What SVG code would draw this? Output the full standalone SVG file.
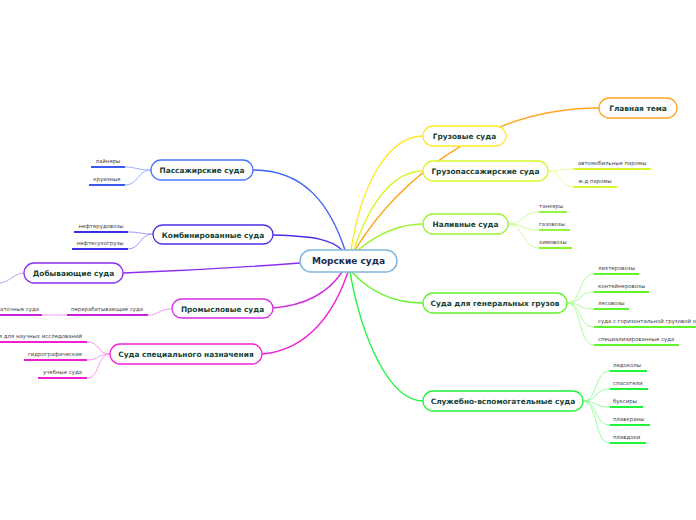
<svg xmlns="http://www.w3.org/2000/svg" width="696" height="520" viewBox="0 0 696 520">
<style>
.n rect{fill:#fff;stroke-width:1.3}
.n text{font-family:"DejaVu Sans",Verdana,sans-serif;font-weight:bold;font-size:7.4px;fill:#163f36;text-anchor:middle}
.s{font-family:"DejaVu Sans",Verdana,sans-serif;font-size:5.4px;fill:#444}
.m{fill:none;stroke-width:1.4}
.c{fill:none;stroke-width:0.9}
.u{stroke-width:1.8}
</style>
<rect width="696" height="520" fill="#fff"/>
<g id="connectors">
  <path class="m" stroke="#3a62f5" d="M253,170 C305,170 330,205 345,250"/>
  <path class="m" stroke="#4a2fe6" d="M273,235 C315,236 332,240 342,250"/>
  <path class="m" stroke="#8a2ff0" d="M123,273 C200,270 260,266 300,263"/>
  <path class="m" stroke="#d22fe0" d="M273,308 C310,305 330,290 342,272"/>
  <path class="m" stroke="#f21fd8" d="M262,354 C310,350 335,310 348,272"/>
  <path class="m" stroke="#ffa51e" d="M355,250 C395,185 480,108 599,108"/>
  <path class="m" stroke="#ffe82a" d="M351,250 C362,180 390,136 423,136"/>
  <path class="m" stroke="#dcf52a" d="M354,250 C370,200 395,171 423,171"/>
  <path class="m" stroke="#9af52a" d="M358,250 C380,232 400,224 423,224"/>
  <path class="m" stroke="#5ef52a" d="M352,272 C370,292 395,303 423,303"/>
  <path class="m" stroke="#1ef53a" d="M350,272 C362,340 390,401 423,401"/>
  <g stroke="#8fa8ff" class="c">
    <path d="M151,170 C138,170 135,167 125,167"/>
    <path d="M151,170 C138,170 138,185 125,185"/>
  </g>
  <g stroke="#9a8cf5" class="c">
    <path d="M153,234 C140,234 140,232 128,232"/>
    <path d="M153,234 C140,234 140,249 128,249"/>
  </g>
  <path class="c" stroke="#c08cf5" d="M24,273 C14,273 10,282 0,283"/>
  <g stroke="#ee90ee" class="c">
    <path d="M172,309 C158,309 160,315 148,315"/>
    <path d="M67,315 C55,315 55,315 42,315"/>
  </g>
  <g stroke="#fb8cec" class="c">
    <path d="M110,354 C97,354 100,342 87,342"/>
    <path d="M110,354 C97,354 100,360 87,360"/>
    <path d="M110,354 C97,354 100,378 87,378"/>
  </g>
  <g stroke="#eefa8c" class="c">
    <path d="M548,171 C562,171 560,169 574,169"/>
    <path d="M548,171 C562,171 560,187 574,187"/>
  </g>
  <g stroke="#c8fa8c" class="c">
    <path d="M508,224 C524,224 522,212 539,212"/>
    <path d="M508,224 C524,224 522,230 539,230"/>
    <path d="M508,224 C524,224 522,248 539,248"/>
  </g>
  <g stroke="#a8fa8c" class="c">
    <path d="M567,303 C582,303 578,274 594,274"/>
    <path d="M567,303 C582,303 578,292 594,292"/>
    <path d="M567,303 C582,303 578,309 594,309"/>
    <path d="M567,303 C582,303 578,327 594,327"/>
    <path d="M567,303 C582,303 578,345 594,345"/>
  </g>
  <g stroke="#8cfa98" class="c">
    <path d="M583,401 C598,401 594,371 610,371"/>
    <path d="M583,401 C598,401 594,389 610,389"/>
    <path d="M583,401 C598,401 594,407 610,407"/>
    <path d="M583,401 C598,401 594,425 610,425"/>
    <path d="M583,401 C598,401 594,443 610,443"/>
  </g>
</g>
<g id="center">
  <rect x="300" y="250" width="97" height="22" rx="11" fill="#fff" stroke="#7fb6dc" stroke-width="1.5"/>
  <text x="348.5" y="264.3" font-family="DejaVu Sans,Verdana,sans-serif" font-weight="bold" font-size="9px" fill="#1b2c50" text-anchor="middle">Морские суда</text>
</g>
<g id="n-passenger" class="n"><rect x="151" y="160" width="102" height="20" rx="10" stroke="#4a74ff"/><text x="202" y="173">Пассажирские суда</text></g>
<g id="n-combined" class="n"><rect x="153" y="225" width="120" height="19" rx="9.5" stroke="#4a2fe6"/><text x="213" y="237.5">Комбинированные суда</text></g>
<g id="n-mining" class="n"><rect x="24" y="263" width="99" height="20" rx="10" stroke="#8a2ff0"/><text x="73.5" y="276">Добывающие суда</text></g>
<g id="n-fishing" class="n"><rect x="172" y="299" width="101" height="19" rx="9.5" stroke="#d22fe0"/><text x="222.5" y="311.5">Промысловые суда</text></g>
<g id="n-special" class="n"><rect x="110" y="344" width="152" height="20" rx="10" stroke="#f21fd8"/><text x="186" y="357">Суда специального назначения</text></g>
<g id="n-main" class="n"><rect x="599" y="98" width="78" height="20" rx="10" stroke="#ffa51e"/><text x="638" y="111">Главная тема</text></g>
<g id="n-cargo" class="n"><rect x="423" y="126" width="83" height="20" rx="10" stroke="#ffe82a"/><text x="464.5" y="139">Грузовые суда</text></g>
<g id="n-cargopass" class="n"><rect x="423" y="161" width="125" height="20" rx="10" stroke="#dcf52a"/><text x="485.5" y="174">Грузопассажирские суда</text></g>
<g id="n-liquid" class="n"><rect x="423" y="214" width="85" height="20" rx="10" stroke="#9af52a"/><text x="465.5" y="227">Наливные суда</text></g>
<g id="n-general" class="n"><rect x="423" y="293" width="144" height="20" rx="10" stroke="#5ef52a"/><text x="495" y="306">Суда для генеральных грузов</text></g>
<g id="n-service" class="n"><rect x="423" y="391" width="160" height="20" rx="10" stroke="#1ef53a"/><text x="503" y="404">Служебно-вспомогательные суда</text></g>

<g id="sub-passenger">
  <text class="s" x="108" y="163" text-anchor="middle">лайнеры</text><line class="u" x1="91" y1="167" x2="125" y2="167" stroke="#3a5af0"/>
  <text class="s" x="107" y="181" text-anchor="middle">круизные</text><line class="u" x1="89" y1="185" x2="125" y2="185" stroke="#3a5af0"/>
</g>
<g id="sub-combined">
  <text class="s" x="101" y="228" text-anchor="middle">нефтерудовозы</text><line class="u" x1="74" y1="232" x2="128" y2="232" stroke="#3a2fe6"/>
  <text class="s" x="100" y="245" text-anchor="middle">нефтесухогрузы</text><line class="u" x1="72" y1="249" x2="128" y2="249" stroke="#3a2fe6"/>
</g>
<g id="sub-fishing">
  <text class="s" x="107" y="311" text-anchor="middle">перерабатывающие суда</text><line class="u" x1="67" y1="315" x2="148" y2="315" stroke="#c81fd8"/>
  <text class="s" x="39" y="311" text-anchor="end">аточные суда</text><line class="u" x1="0" y1="315" x2="42" y2="315" stroke="#c81fd8"/>
</g>
<g id="sub-special">
  <text class="s" x="82" y="338" text-anchor="end">я для научных исследований</text><line class="u" x1="0" y1="342" x2="87" y2="342" stroke="#f01fd0"/>
  <text class="s" x="82" y="356" text-anchor="end">гидрографические</text><line class="u" x1="24" y1="360" x2="87" y2="360" stroke="#f01fd0"/>
  <text class="s" x="82" y="374" text-anchor="end">учебные суда</text><line class="u" x1="38" y1="378" x2="87" y2="378" stroke="#f01fd0"/>
</g>
<g id="sub-cargopass">
  <text class="s" x="578" y="165">автомобильные паромы</text><line class="u" x1="574" y1="169" x2="651" y2="169" stroke="#dcf52a"/>
  <text class="s" x="578" y="183">ж.д паромы</text><line class="u" x1="574" y1="187" x2="617" y2="187" stroke="#dcf52a"/>
</g>
<g id="sub-liquid">
  <text class="s" x="539" y="208">танкеры</text><line class="u" x1="539" y1="212" x2="567" y2="212" stroke="#8af52a"/>
  <text class="s" x="539" y="226">газовозы</text><line class="u" x1="539" y1="230" x2="570" y2="230" stroke="#8af52a"/>
  <text class="s" x="539" y="244">химовозы</text><line class="u" x1="539" y1="248" x2="572" y2="248" stroke="#8af52a"/>
</g>
<g id="sub-general">
  <text class="s" x="598" y="270">лихтеровозы</text><line class="u" x1="594" y1="274" x2="639" y2="274" stroke="#5ef52a"/>
  <text class="s" x="598" y="288">контейнеровозы</text><line class="u" x1="594" y1="292" x2="649" y2="292" stroke="#5ef52a"/>
  <text class="s" x="598" y="305">лесовозы</text><line class="u" x1="594" y1="309" x2="629" y2="309" stroke="#5ef52a"/>
  <text class="s" x="598" y="323">суда с горизонтальной грузовой о</text><line class="u" x1="594" y1="327" x2="696" y2="327" stroke="#5ef52a"/>
  <text class="s" x="598" y="341">специализированные суда</text><line class="u" x1="594" y1="345" x2="679" y2="345" stroke="#5ef52a"/>
</g>
<g id="sub-service">
  <text class="s" x="613" y="367">ледоколы</text><line class="u" x1="610" y1="371" x2="647" y2="371" stroke="#1ef53a"/>
  <text class="s" x="613" y="385">спасатели</text><line class="u" x1="610" y1="389" x2="648" y2="389" stroke="#1ef53a"/>
  <text class="s" x="613" y="403">буксиры</text><line class="u" x1="610" y1="407" x2="643" y2="407" stroke="#1ef53a"/>
  <text class="s" x="613" y="421">плавкраны</text><line class="u" x1="610" y1="425" x2="650" y2="425" stroke="#1ef53a"/>
  <text class="s" x="613" y="439">плавдоки</text><line class="u" x1="610" y1="443" x2="646" y2="443" stroke="#1ef53a"/>
</g>
</svg>
